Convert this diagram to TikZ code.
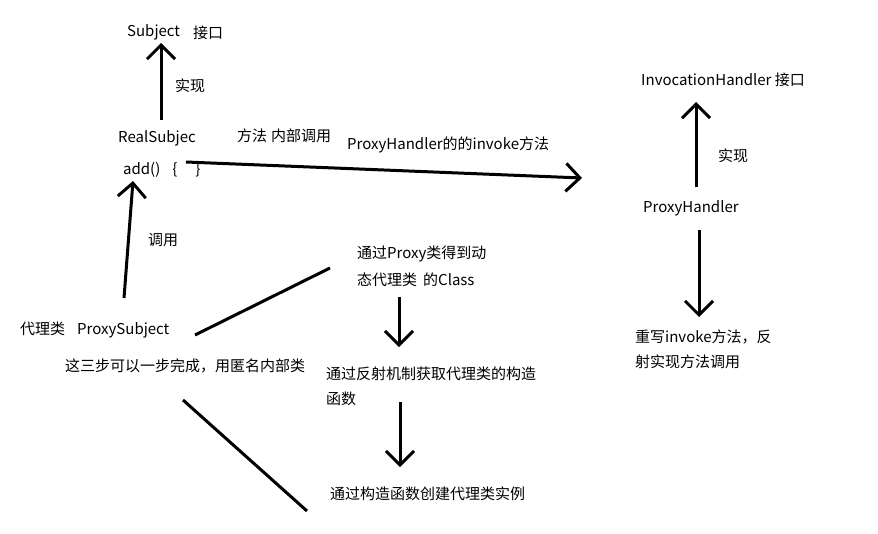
\documentclass[tikz,border=0pt]{standalone}
\usepackage{fontspec}
\setmainfont{Noto Sans CJK SC}
\usetikzlibrary{arrows.meta,positioning}
\tikzstyle{flow} = [line width=3pt,-{Straight Barb[length=14pt,width=28pt]}]
\tikzstyle{plainline} = [line width=3pt]
\tikzstyle{txt} = [anchor=west,inner sep=0pt,font=\fontsize{15}{18}\selectfont]

\begin{document}
\begin{tikzpicture}[x=1pt,y=-1pt,every node/.style={txt}]
\useasboundingbox (0,0) rectangle (878,533);
% 左边：Subject / RealSubject / ProxySubject
\node (subject) at (127,32) {Subject};
\node (iface1) at (193,33) {接口};
\node (impl1) at (175,86) {实现};
\node (real) at (118,138) {RealSubjec};
\node (inner) at (237,136) {方法\hspace{4pt}内部调用};
\node (add) at (123,170) {add()\hspace{12pt}\{\hspace{18pt}\}};
\node (call) at (148,240) {调用};
\node (proxy) at (20,330) {代理类\hspace{12pt}ProxySubject};
\node (anon) at (65,366) {这三步可以一步完成，用匿名内部类};

\coordinate (s1) at (161,120);
\coordinate (s2) at (161,43);
\coordinate (p1) at (124,298);
\coordinate (p2) at (133,181);
\draw[flow] (s1) -- (s2);
\draw[flow] (p1) -- (p2);

% 中间：调用 invoke
\node (invoke) at (347,145) {ProxyHandler的的invoke方法};
\coordinate (i1) at (186,162);
\coordinate (i2) at (582,178);
\draw[flow] (i1) -- (i2);

% 三个步骤
\node (step1) at (357,254) {通过Proxy类得到动};
\node (step1b) at (357,280) {态代理类\hspace{6pt}的Class};
\node (step2) at (326,374) {通过反射机制获取代理类的构造};
\node (step2b) at (326,399) {函数};
\node (step3) at (330,494) {通过构造函数创建代理类实例};

\coordinate (d1) at (399,297);
\coordinate (d2) at (399,347);
\coordinate (d3) at (400,402);
\coordinate (d4) at (400,467);
\draw[flow] (d1) -- (d2);
\draw[flow] (d3) -- (d4);

\coordinate (l1) at (195,335);
\coordinate (l2) at (330,268);
\coordinate (l3) at (183,400);
\coordinate (l4) at (307,511);
\draw[plainline] (l1) -- (l2);
\draw[plainline] (l3) -- (l4);

% 右边：InvocationHandler
\node (ih) at (641,80) {InvocationHandler 接口};
\node (impl2) at (718,156) {实现};
\node (handler) at (643,208) {ProxyHandler};
\node (rewrite) at (635,337) {重写invoke方法，反};
\node (rewriteb) at (635,362) {射实现方法调用};

\coordinate (h1) at (696,187);
\coordinate (h2) at (696,102);
\coordinate (h3) at (699,230);
\coordinate (h4) at (699,317);
\draw[flow] (h1) -- (h2);
\draw[flow] (h3) -- (h4);
\end{tikzpicture}
\end{document}
